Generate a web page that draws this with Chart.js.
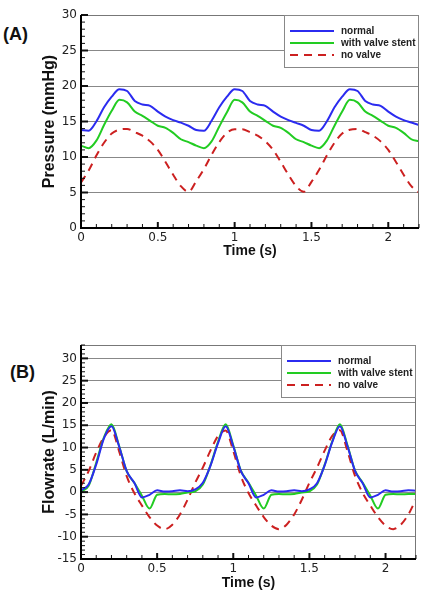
<!DOCTYPE html>
<html>
<head>
<meta charset="utf-8">
<script src="https://cdn.jsdelivr.net/npm/chart.js@4.4.0/dist/chart.umd.min.js"></script>
<style>
  body { margin: 0; background: #fff; width: 421px; height: 599px; position: relative; overflow: hidden;
         font-family: "Liberation Sans", Arial, sans-serif; }
  canvas { position: absolute; left: 0; }
  #chartA { top: 0; }
  #chartB { top: 330px; }
  .panel { position: absolute; font-weight: bold; font-size: 18px; line-height: 18px; color: #111; }
</style>
</head>
<body>
<div class="panel" style="left:3px;top:25px">(A)</div>
<div class="panel" style="left:10px;top:363px">(B)</div>
<canvas id="chartA" width="421" height="264"></canvas>
<canvas id="chartB" width="421" height="269"></canvas>

<script>
// time axis (s), shared by both panels
const times = [0, 0.05, 0.1, 0.15, 0.2, 0.25, 0.3, 0.35, 0.4, 0.45, 0.5, 0.55, 0.6, 0.65, 0.7,
               0.75, 0.8, 0.85, 0.9, 0.95, 1.0, 1.05, 1.1, 1.15, 1.2, 1.25, 1.3, 1.35, 1.4, 1.45,
               1.5, 1.55, 1.6, 1.65, 1.7, 1.75, 1.8, 1.85, 1.9, 1.95, 2.0, 2.05, 2.1, 2.15, 2.2];

const seriesLabels = ['normal', 'with valve stent', 'no valve'];

// (A) pressure, mmHg
const pressureNormal = [13.8, 13.7, 15.0, 17.0, 18.5, 19.55, 19.3, 17.9, 17.4, 17.2, 16.4, 15.7, 15.2, 14.85, 14.4,
                        13.8, 13.7, 15.1, 17.0, 18.5, 19.55, 19.3, 17.9, 17.4, 17.2, 16.4, 15.7, 15.2, 14.8, 14.4,
                        13.8, 13.7, 15.0, 17.0, 18.5, 19.55, 19.3, 17.9, 17.4, 17.2, 16.4, 15.7, 15.2, 14.85, 14.5];
const pressureStent  = [11.6, 11.25, 12.3, 14.5, 16.5, 18.05, 17.7, 16.4, 15.8, 15.1, 14.4, 14.1, 13.4, 12.5, 12.1,
                        11.6, 11.25, 12.2, 14.3, 16.3, 18.05, 17.7, 16.4, 15.8, 15.1, 14.4, 14.1, 13.4, 12.5, 12.1,
                        11.6, 11.25, 12.3, 14.4, 16.4, 18.05, 17.7, 16.4, 15.8, 15.1, 14.4, 14.1, 13.4, 12.5, 12.2];
const pressureNoValve = [6.4, 8.1, 10.2, 12.0, 13.3, 13.85, 13.95, 13.5, 13.0, 12.2, 11.0, 9.3, 7.5, 5.9, 5.1,
                         6.6, 8.3, 10.3, 12.1, 13.4, 13.9, 13.9, 13.5, 13.0, 12.2, 11.0, 9.3, 7.5, 5.9, 5.1,
                         6.5, 8.2, 10.2, 12.0, 13.3, 13.85, 13.95, 13.5, 13.0, 12.2, 11.0, 9.3, 7.5, 5.9, 5.0];

// (B) flowrate, L/min
const flowNormal = [0.4, 1.7, 6.2, 12.0, 14.8, 10.3, 4.7, 2.1, -1.2, -0.6, 0.4, 0.15, 0.2, 0.4, 0.2,
                    0.6, 2.1, 5.9, 11.0, 14.8, 10.3, 4.7, 2.0, -1.2, -0.6, 0.4, 0.15, 0.2, 0.4, 0.2,
                    0.6, 2.0, 6.0, 11.2, 14.8, 10.3, 4.7, 2.0, -1.2, -0.6, 0.4, 0.15, 0.2, 0.4, 0.3];
const flowStent  = [0.1, 1.4, 6.6, 12.2, 15.2, 10.4, 4.7, 2.1, -0.8, -3.7, -0.6, -0.4, -0.5, -0.4, -0.1,
                    0.2, 1.7, 6.0, 11.3, 15.2, 10.5, 4.8, 2.1, -0.8, -3.7, -0.6, -0.4, -0.5, -0.4, -0.1,
                    0.2, 1.7, 6.1, 11.4, 15.2, 10.5, 4.8, 2.1, -0.8, -3.7, -0.6, -0.4, -0.5, -0.4, -0.4];
const flowNoValve = [1.4, 4.7, 8.9, 12.3, 13.9, 9.2, 3.6, -0.2, -3.0, -5.6, -7.5, -8.3, -7.3, -5.0, -1.7,
                     2.1, 5.5, 9.3, 12.6, 13.8, 9.2, 3.6, -0.2, -3.0, -5.6, -7.5, -8.3, -7.3, -5.0, -1.7,
                     2.1, 5.5, 9.3, 12.6, 13.9, 9.2, 3.6, -0.2, -3.0, -5.6, -7.5, -8.3, -7.3, -5.0, -1.6];

// tick labels
const xTicks = [0, 0.5, 1, 1.5, 2];
const yTicksA = [0, 5, 10, 15, 20, 25, 30];
const yTicksB = [-15, -10, -5, 0, 5, 10, 15, 20, 25, 30];

const colors = ['#2b2bf0', '#22cc22', '#cc2020'];

// frame and inward tick marks (Tecplot style)
const frameTicks = {
  id: 'frameTicks',
  afterDraw(chart) {
    const { ctx, chartArea: a, scales: { x, y } } = chart;
    ctx.save();
    ctx.strokeStyle = '#777';
    ctx.lineWidth = 1;
    ctx.beginPath();
    ctx.moveTo(a.left, a.top + 0.5);
    ctx.lineTo(a.right - 0.5, a.top + 0.5);
    ctx.lineTo(a.right - 0.5, a.bottom);
    ctx.stroke();

    ctx.strokeStyle = '#111';
    for (let i = Math.ceil(x.min * 10); i <= Math.floor(x.max * 10 + 1e-6); i++) {
      const px = x.getPixelForValue(i / 10);
      const major = i % 5 === 0;
      ctx.lineWidth = major ? 2 : 1;
      ctx.beginPath();
      ctx.moveTo(px, a.bottom);
      ctx.lineTo(px, a.bottom - (major ? 6 : 4));
      ctx.stroke();
    }
    for (let v = Math.ceil(y.min); v <= Math.floor(y.max); v++) {
      const py = y.getPixelForValue(v);
      const major = v % 5 === 0;
      ctx.lineWidth = major ? 2 : 1;
      ctx.beginPath();
      ctx.moveTo(a.left, py);
      ctx.lineTo(a.left + (major ? 7 : 4), py);
      ctx.stroke();
    }

    ctx.strokeStyle = '#000';
    ctx.lineWidth = 2;
    ctx.beginPath();
    ctx.moveTo(a.left, a.top);
    ctx.lineTo(a.left, a.bottom);
    ctx.lineTo(a.right, a.bottom);
    ctx.stroke();
    ctx.restore();
  }
};

// boxed legend in the top right corner of the plot
const boxLegend = {
  id: 'boxLegend',
  afterDraw(chart) {
    const { ctx, chartArea: a } = chart;
    const w = 135, h = 53;
    const bx = a.right - w, by = a.top;
    ctx.save();
    ctx.fillStyle = '#fff';
    ctx.fillRect(bx, by, w, h);
    ctx.strokeStyle = '#888';
    ctx.lineWidth = 1;
    ctx.strokeRect(bx + 0.5, by + 0.5, w - 1, h - 1);
    ctx.font = 'bold 10px "Liberation Sans", Arial, sans-serif';
    ctx.textBaseline = 'middle';
    chart.data.datasets.forEach((ds, i) => {
      const ly = by + 16 + i * 12;
      ctx.strokeStyle = ds.borderColor;
      ctx.lineWidth = 2;
      ctx.setLineDash(ds.borderDash || []);
      ctx.beginPath();
      ctx.moveTo(bx + 6, ly);
      ctx.lineTo(bx + 50, ly);
      ctx.stroke();
      ctx.setLineDash([]);
      ctx.fillStyle = '#222';
      ctx.fillText(ds.label, bx + 57, ly + 0.5);
    });
    ctx.restore();
  }
};

function makeDatasets(values) {
  return values.map((vals, i) => ({
    label: seriesLabels[i],
    data: times.map((t, k) => ({ x: t, y: vals[k] })),
    borderColor: colors[i],
    borderWidth: 2,
    borderDash: i === 2 ? [8, 6] : [],
    pointRadius: 0,
    cubicInterpolationMode: 'monotone',
    fill: false
  }));
}

function makeChart(id, values, yTitle, yMin, yMax, yTicks, padding, xHeight) {
  const ctx = document.getElementById(id).getContext('2d');
  return new Chart(ctx, {
    type: 'line',
    data: { datasets: makeDatasets(values) },
    options: {
      responsive: false,
      animation: false,
      devicePixelRatio: 1,
      layout: { padding: padding },
      plugins: { legend: { display: false }, tooltip: { enabled: false } },
      scales: {
        x: {
          type: 'linear',
          min: 0,
          max: 2.2,
          afterBuildTicks: (s) => { s.ticks = xTicks.map(v => ({ value: v })); },
          afterFit: (s) => { s.height = xHeight; },
          grid: { display: false, drawTicks: false },
          border: { display: false },
          ticks: { padding: 3, color: '#222', maxRotation: 0,
                   callback: (v) => String(v),
                   font: { family: '"DejaVu Sans", sans-serif', size: 12 } },
          title: { display: true, text: 'Time (s)', color: '#111', padding: { top: 0, bottom: 4 },
                   font: { family: '"Liberation Sans", Arial, sans-serif', size: 14, weight: 'bold' } }
        },
        y: {
          min: yMin,
          max: yMax,
          afterBuildTicks: (s) => { s.ticks = yTicks.map(v => ({ value: v })); },
          afterFit: (s) => { s.width = 45; },
          grid: { color: '#888', lineWidth: 1, drawTicks: false },
          border: { display: false },
          ticks: { padding: 4, color: '#222',
                   callback: (v) => String(v),
                   font: { family: '"DejaVu Sans", sans-serif', size: 12 } },
          title: { display: true, text: yTitle, color: '#111', padding: { top: 4, bottom: 0 },
                   font: { family: '"Liberation Sans", Arial, sans-serif', size: 16, weight: 'bold' } }
        }
      }
    },
    plugins: [frameTicks, boxLegend]
  });
}

document.addEventListener('DOMContentLoaded', () => {
  makeChart('chartA', [pressureNormal, pressureStent, pressureNoValve], 'Pressure (mmHg)',
            0, 30, yTicksA, { top: 15, left: 36, right: 2, bottom: 0 }, 36);
  makeChart('chartB', [flowNormal, flowStent, flowNoValve], 'Flowrate (L/min)',
            -15, 33, yTicksB, { top: 15, left: 36, right: 5, bottom: 3 }, 37);
});
</script>
</body>
</html>
